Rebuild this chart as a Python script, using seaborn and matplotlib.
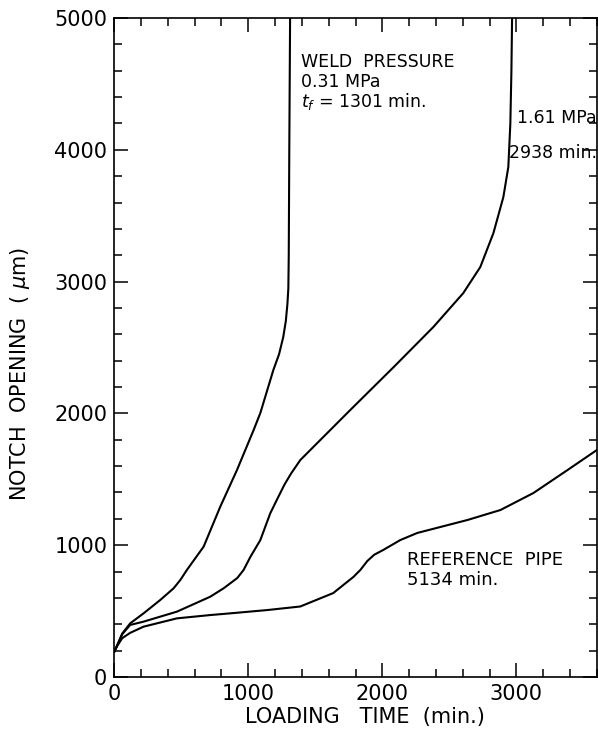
import matplotlib
matplotlib.use("Agg")
import matplotlib.pyplot as plt
import seaborn as sns
import pandas as pd
from matplotlib.ticker import MultipleLocator

sns.set_style("ticks")
plt.rcParams['font.family'] = ['DejaVu Sans']
plt.rcParams['text.color'] = 'black'
plt.rcParams['axes.labelcolor'] = 'black'
plt.rcParams['xtick.color'] = 'black'
plt.rcParams['ytick.color'] = 'black'

# Curve data
x_031 = [0, 22, 60, 119, 219, 343, 443, 493, 542, 667, 791, 916, 1040, 1090, 1187, 1230, 1261, 1280, 1292, 1299, 1302, 1306, 1312]
y_031 = [190, 240, 330, 407, 483, 584, 673, 736, 812, 989, 1292, 1571, 1874, 2003, 2329, 2450, 2580, 2700, 2830, 2950, 3200, 4000, 5000]

x_161 = [0, 22, 60, 119, 219, 468, 716, 816, 918, 965, 1015, 1090, 1164, 1216, 1270, 1320, 1388, 1485, 1761, 2085, 2381, 2604, 2731, 2829, 2903, 2940, 2955, 2963, 2968]
y_161 = [190, 240, 325, 395, 420, 496, 609, 673, 751, 812, 910, 1039, 1242, 1350, 1460, 1545, 1646, 1745, 2026, 2352, 2656, 2913, 3111, 3369, 3642, 3870, 4200, 4600, 5000]

x_ref = [0, 22, 60, 119, 219, 468, 716, 888, 1142, 1388, 1634, 1784, 1836, 1888, 1940, 2007, 2134, 2261, 2634, 2881, 3127, 3381, 3600]
y_ref = [190, 235, 295, 335, 382, 445, 470, 485, 508, 535, 637, 759, 812, 880, 928, 964, 1039, 1093, 1191, 1267, 1396, 1570, 1722]

x_ticks = [0, 1000, 2000, 3000]
y_ticks = [0, 1000, 2000, 3000, 4000, 5000]

fig = plt.figure(figsize=(5.98, 7.30), dpi=100)
ax = fig.add_axes([0.191, 0.0726, 0.807, 0.9027])

for xs, ys in [(x_031, y_031), (x_161, y_161), (x_ref, y_ref)]:
    df = pd.DataFrame({"t": xs, "o": ys})
    sns.lineplot(data=df, x="t", y="o", sort=False, estimator=None,
                 color="black", linewidth=1.5, ax=ax)

ax.set_xlim(0, 3600)
ax.set_ylim(0, 5000)
ax.set_xticks(x_ticks)
ax.set_yticks(y_ticks)
ax.xaxis.set_minor_locator(MultipleLocator(200))
ax.yaxis.set_minor_locator(MultipleLocator(200))
ax.tick_params(which="both", direction="in", top=True, right=True, width=1.1,
               labelsize=15, pad=5, colors="black")
ax.tick_params(which="major", length=10)
ax.tick_params(which="minor", length=6)
for s in ax.spines.values():
    s.set_linewidth(1.2)
    s.set_color("black")

ax.set_xlabel("LOADING   TIME  (min.)", fontsize=15, labelpad=4)
ax.xaxis.set_label_coords(0.52, -0.045)
ax.set_ylabel("NOTCH  OPENING  ( $\\mu$m)", fontsize=15, labelpad=10)
ax.yaxis.set_label_coords(-0.17, 0.46)

fs = 12.5
ax.text(1396, 4666, "WELD  PRESSURE", fontsize=fs, va="center", ha="left")
ax.text(1396, 4514, "0.31 MPa", fontsize=fs, va="center", ha="left")
ax.text(1396, 4370, "$t_f$ = 1301 min.", fontsize=fs, va="center", ha="left")
ax.text(3598, 4241, "1.61 MPa", fontsize=fs, va="center", ha="right")
ax.text(3598, 3976, "2938 min.", fontsize=fs, va="center", ha="right")
ax.text(2187, 888, "REFERENCE  PIPE", fontsize=13, va="center", ha="left")
ax.text(2187, 736, "5134 min.", fontsize=13, va="center", ha="left")

fig.savefig("out.png", dpi=100)
